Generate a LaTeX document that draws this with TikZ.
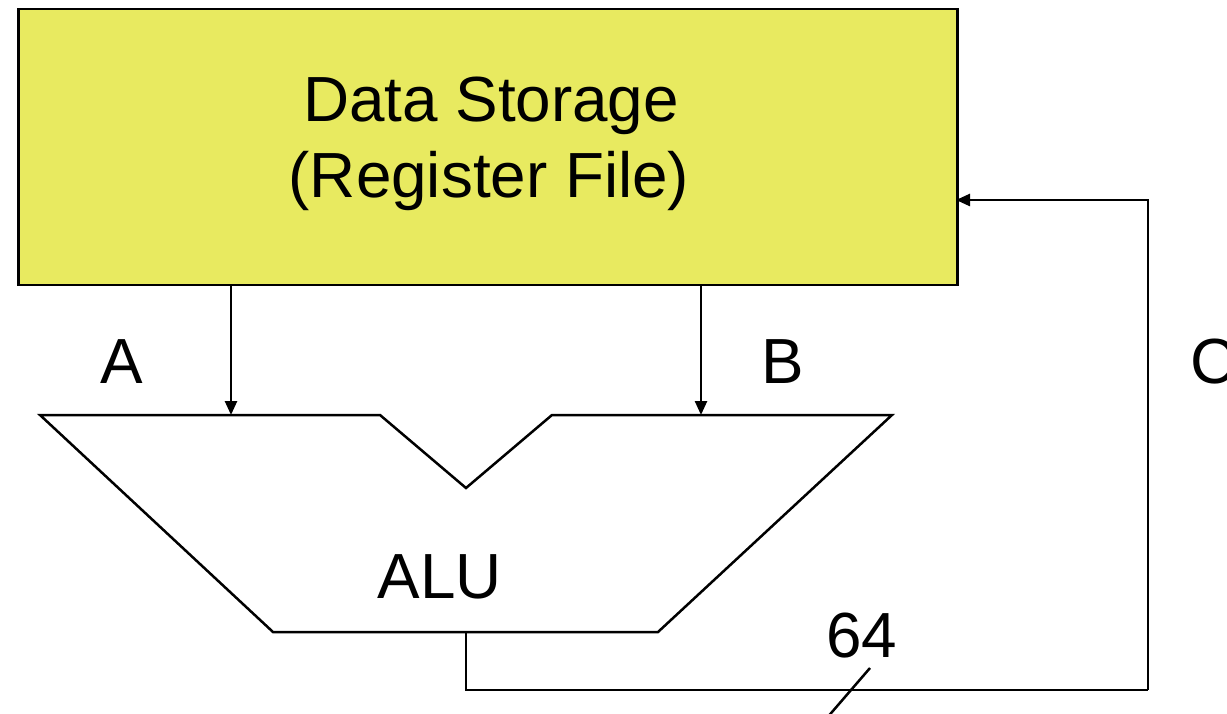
\documentclass[tikz,border=0pt]{standalone}
\usepackage{fontspec}
\setmainfont{Liberation Sans}
\usetikzlibrary{arrows.meta}
\definecolor{regyellow}{RGB}{232,234,96}
\tikzset{
  wire/.style={line width=2.5pt, line join=miter},
  arr/.style={wire, -{Triangle[length=14pt,width=12pt]}},
  big/.style={font=\fontsize{63.8}{76}\selectfont, inner sep=0pt},
}
\begin{document}
\begin{tikzpicture}[x=1pt,y=-1pt]
  \useasboundingbox (0,0) rectangle (1227,714);

  % register file
  \node[wire, draw, fill=regyellow, anchor=north west, minimum width=939pt,
        minimum height=276pt, inner sep=0pt] (rf) at (17,8) {};
  \node[big, anchor=base] (t1) at (491,122) {Data Storage};
  \node[big, anchor=base] (t2) at (489,198) {(Register File)};

  % ALU outline
  \draw[wire] (40,415) -- (380,415) -- (466,488) -- (552,415) -- (892,415)
              -- (658,632) -- (273,632) -- cycle;
  \node[big, anchor=base] (alu) at (440,598) {ALU};

  % ports
  \coordinate (ain) at (231,415);
  \coordinate (bin) at (701,415);
  \coordinate (aout) at (466,632);
  \coordinate (cr) at (1148,690);
  \coordinate (cin) at (956,200);

  \draw[arr] (ain |- rf.south) -- (ain);
  \draw[arr] (bin |- rf.south) -- (bin);
  \draw[wire] (aout) |- (cr);
  \draw[arr] (cr) |- (cin);

  % bus width mark
  \coordinate (s1) at (826,719);
  \coordinate (s2) at (870,668);
  \draw[wire] (s1) -- (s2);

  \node[big, anchor=base] (la) at (122,383) {A};
  \node[big, anchor=base] (lb) at (783,383) {B};
  \node[big, anchor=base west] (lc) at (1190,383) {C};
  \node[big, anchor=base] (l64) at (862,657) {64};
\end{tikzpicture}
\end{document}
